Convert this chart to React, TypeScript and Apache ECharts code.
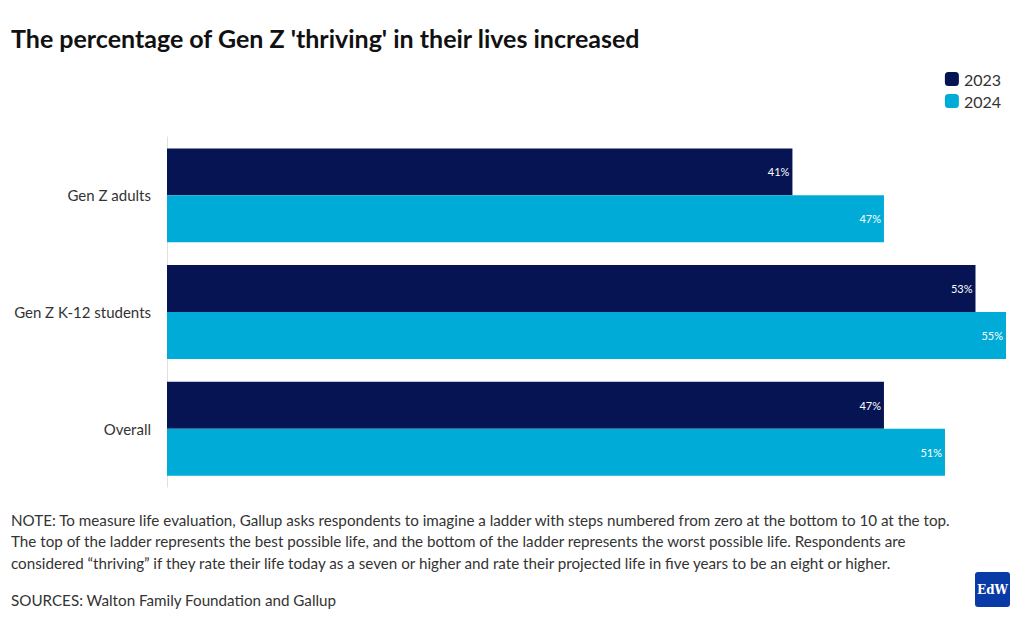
import React, { useEffect, useRef } from "react";
import * as echarts from "echarts";

const categories = ["Gen Z adults", "Gen Z K-12 students", "Overall"];
const values2023 = [41, 53, 47];
const values2024 = [47, 55, 51];
const seriesNames = ["2023", "2024"];

const TITLE = "The percentage of Gen Z 'thriving' in their lives increased";
const NOTE_LINES = [
  "NOTE: To measure life evaluation, Gallup asks respondents to imagine a ladder with steps numbered from zero at the bottom to 10 at the top.",
  "The top of the ladder represents the best possible life, and the bottom of the ladder represents the worst possible life. Respondents are",
  "considered \u201cthriving\u201d if they rate their life today as a seven or higher and rate their projected life in five years to be an eight or higher.",
];
const SOURCE = "SOURCES: Walton Family Foundation and Gallup";

const FONT = "Lato, 'Noto Sans', sans-serif";
const NAVY = "#061453";
const CYAN = "#00acd7";

export default function App() {
  const ref = useRef<HTMLDivElement>(null);
  useEffect(() => {
    if (!ref.current) return;
    const chart = echarts.init(ref.current, undefined, { renderer: "svg" });
    const label = {
      show: true,
      position: "insideRight",
      color: "#ffffff",
      fontSize: 11,
      fontFamily: FONT,
      distance: 3,
      formatter: (p: any) => `${p.value}%`,
    };
    chart.setOption({
      animation: false,
      textStyle: { fontFamily: FONT },
      legend: {
        orient: "vertical",
        right: 14,
        top: 66,
        itemWidth: 14,
        itemHeight: 14,
        itemGap: 6,
        icon: "roundRect",
        textStyle: { fontSize: 16, color: "#333", fontFamily: FONT, padding: [0, 0, 0, 0] },
        data: seriesNames,
      },
      grid: { left: 167, right: 14, top: 137, bottom: 135, containLabel: false },
      xAxis: {
        type: "value",
        min: 0,
        max: 55,
        show: false,
      },
      yAxis: {
        type: "category",
        data: categories,
        inverse: true,
        axisLine: { show: true, lineStyle: { color: "#e0e0e0", width: 1 } },
        axisTick: { show: false },
        axisLabel: { color: "#333", fontSize: 15, fontFamily: FONT, margin: 16 },
      },
      series: [
        {
          name: seriesNames[0],
          type: "bar",
          data: values2023,
          itemStyle: { color: NAVY },
          barGap: "0%",
          barCategoryGap: "19.5%",
          label,
        },
        {
          name: seriesNames[1],
          type: "bar",
          data: values2024,
          itemStyle: { color: CYAN },
          barGap: "0%",
          barCategoryGap: "19.5%",
          label,
        },
      ],
      graphic: [
        {
          type: "text",
          left: 11,
          top: 25,
          style: { text: TITLE, fontSize: 25, fontWeight: "bold", fill: "#111", fontFamily: FONT },
        },
        ...NOTE_LINES.map((t, i) => ({
          type: "text",
          left: 11,
          top: 512 + i * 21.5,
          style: { text: t, fontSize: 15.2, fill: "#333", fontFamily: FONT },
        })),
        {
          type: "text",
          left: 11,
          top: 592,
          style: { text: SOURCE, fontSize: 15.2, fill: "#333", fontFamily: FONT },
        },
        {
          type: "rect",
          left: 975,
          top: 572,
          shape: { width: 35, height: 35, r: 3 },
          style: { fill: "#0a3aa6" },
        },
        {
          type: "text",
          x: 992.5,
          y: 590,
          style: {
            text: "EdW",
            fontSize: 12,
            fontWeight: "bold",
            fill: "#fff",
            fontFamily: "'DejaVu Serif', serif",
            align: "center",
            verticalAlign: "middle",
          },
        },
      ],
    });
    return () => chart.dispose();
  }, []);
  return <div ref={ref} style={{ width: 1020, height: 622, position: "absolute", left: 0, top: 0 }} />;
}
